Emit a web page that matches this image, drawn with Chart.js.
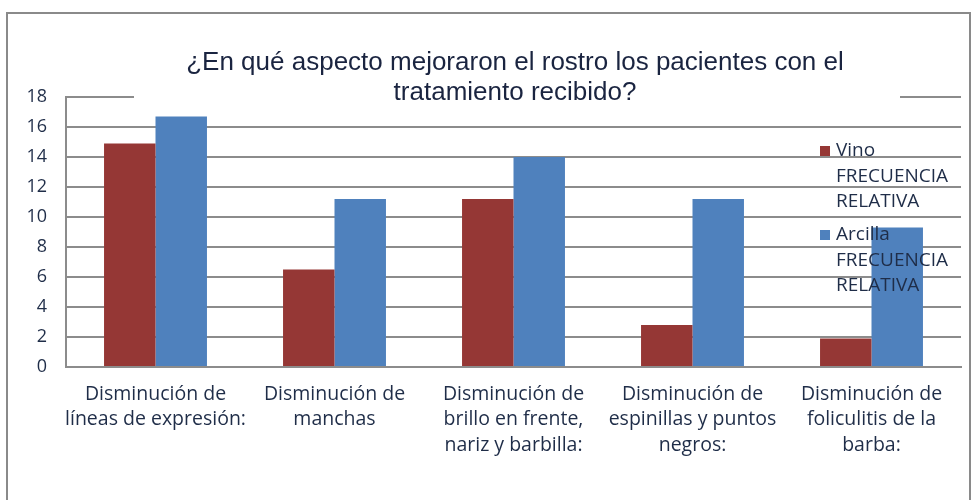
<!DOCTYPE html>
<html>
<head>
<meta charset="utf-8">
<script src="https://cdn.jsdelivr.net/npm/chart.js@4"></script>
<style>
  html, body { margin: 0; padding: 0; background: #fff; }
  #wrap { position: relative; width: 977px; height: 500px; }
</style>
</head>
<body>
<div id="wrap"><canvas id="chart" width="977" height="500"></canvas></div>
<script>
// Data
const categories = [
  ['Disminución de', 'líneas de expresión:'],
  ['Disminución de', 'manchas'],
  ['Disminución de', 'brillo en frente,', 'nariz y barbilla:'],
  ['Disminución de', 'espinillas y puntos', 'negros:'],
  ['Disminución de', 'foliculitis de la', 'barba:']
];
const vinoValues = [14.9, 6.5, 11.2, 2.8, 1.9];
const arcillaValues = [16.7, 11.2, 14, 11.2, 9.3];
const seriesNames = [
  ['Vino', 'FRECUENCIA', 'RELATIVA'],
  ['Arcilla', 'FRECUENCIA', 'RELATIVA']
];
const titleLines = [
  '¿En qué aspecto mejoraron el rostro los pacientes con el',
  'tratamiento recibido?'
];

const textColor = '#1f2d48';
const gridColor = '#8c8c8c';

// Outer frame + title box drawn over the gridlines
const framePlugin = {
  id: 'frame',
  beforeDraw(chart) {
    const ctx = chart.ctx;
    ctx.save();
    ctx.fillStyle = '#fff';
    ctx.fillRect(0, 0, chart.width, chart.height);
    ctx.strokeStyle = '#8a8a8a';
    ctx.lineWidth = 2;
    ctx.strokeRect(7, 13, 963, 500);
    ctx.restore();
  },
  afterDraw(chart) {
    const ctx = chart.ctx;
    ctx.save();
    ctx.fillStyle = '#fff';
    ctx.fillRect(134, 40, 766, 68);
    ctx.fillStyle = '#1a2440';
    ctx.font = '26px "Liberation Sans", Arial, sans-serif';
    ctx.textAlign = 'center';
    ctx.textBaseline = 'middle';
    ctx.fillText(titleLines[0], 515, 63);
    ctx.fillText(titleLines[1], 515, 93);
    ctx.restore();
  }
};

// Legend drawn over the plot, like the Excel original
const legendPlugin = {
  id: 'sideLegend',
  afterDraw(chart) {
    const ctx = chart.ctx;
    ctx.save();
    ctx.font = '19px "Open Sans", sans-serif';
    ctx.textBaseline = 'middle';
    ctx.textAlign = 'left';
    const starts = [151, 235];
    chart.data.datasets.forEach((ds, i) => {
      const y0 = starts[i];
      ctx.fillStyle = ds.backgroundColor;
      ctx.fillRect(820, y0 - 5, 10, 10);
      ctx.fillStyle = textColor;
      seriesNames[i].forEach((line, j) => {
        ctx.fillText(line, 836, y0 + j * 25.5);
      });
    });
    ctx.restore();
  }
};

new Chart(document.getElementById('chart'), {
  type: 'bar',
  data: {
    labels: categories,
    datasets: [
      {
        label: seriesNames[0].join(' '),
        data: vinoValues,
        backgroundColor: '#953735',
        borderWidth: 0,
        categoryPercentage: 0.575,
        barPercentage: 1
      },
      {
        label: seriesNames[1].join(' '),
        data: arcillaValues,
        backgroundColor: '#4f81bd',
        borderWidth: 0,
        categoryPercentage: 0.575,
        barPercentage: 1
      }
    ]
  },
  options: {
    responsive: false,
    animation: false,
    layout: { padding: { left: 0, right: 16, top: 97, bottom: 0 } },
    plugins: {
      legend: { display: false },
      title: { display: false },
      tooltip: { enabled: false }
    },
    scales: {
      x: {
        grid: { display: false, drawTicks: false },
        border: { display: true, color: gridColor, width: 2 },
        ticks: {
          font: { family: '"Open Sans", sans-serif', size: 19.5, lineHeight: 1.33 },
          color: textColor,
          padding: 14,
          maxRotation: 0,
          autoSkip: false
        },
        afterFit(scale) { scale.height = 133; }
      },
      y: {
        min: 0,
        max: 18,
        grid: { color: gridColor, lineWidth: 2, drawTicks: false },
        border: { display: true, color: gridColor, width: 2 },
        ticks: {
          stepSize: 2,
          font: { family: '"Open Sans", sans-serif', size: 18 },
          color: textColor,
          padding: 19
        },
        afterFit(scale) { scale.width = 66; }
      }
    }
  },
  plugins: [framePlugin, legendPlugin]
});
</script>
</body>
</html>
